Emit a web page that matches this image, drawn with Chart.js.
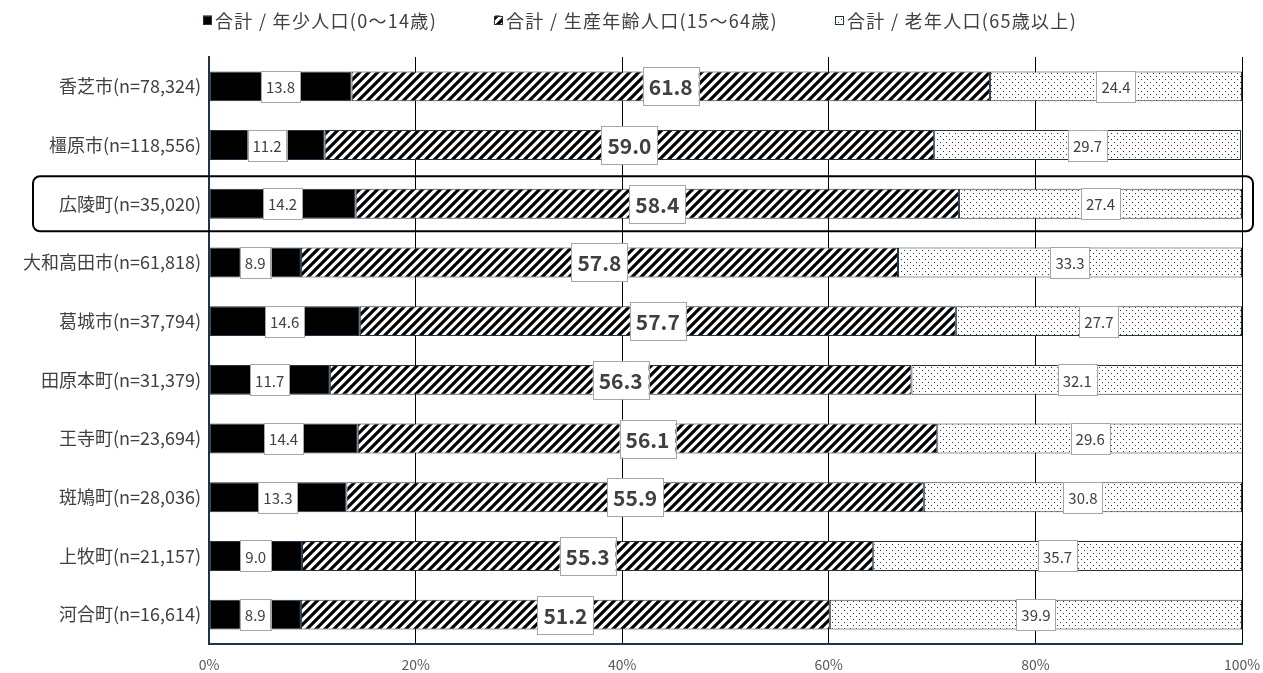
<!DOCTYPE html>
<html>
<head>
<meta charset="utf-8">
<script src="https://cdn.jsdelivr.net/npm/chart.js@4.4.1/dist/chart.umd.min.js"></script>
<style>
  html, body { margin: 0; padding: 0; background: #fff; overflow: hidden; }
  #wrap { width: 1263px; height: 673px; }
</style>
</head>
<body>
<div id="wrap"><canvas id="popChart"></canvas></div>
<script>
(function(){
'use strict';

// 市町村名(n=人口)
const areas = [
  '香芝市(n=78,324)', '橿原市(n=118,556)', '広陵町(n=35,020)', '大和高田市(n=61,818)',
  '葛城市(n=37,794)', '田原本町(n=31,379)', '王寺町(n=23,694)', '斑鳩町(n=28,036)',
  '上牧町(n=21,157)', '河合町(n=16,614)'
];
const seriesNames = ['合計 / 年少人口(0～14歳)', '合計 / 生産年齢人口(15～64歳)', '合計 / 老年人口(65歳以上)'];
const youngPct  = [13.8, 11.2, 14.2, 8.9, 14.6, 11.7, 14.4, 13.3, 9.0, 8.9];
const workPct   = [61.8, 59.0, 58.4, 57.8, 57.7, 56.3, 56.1, 55.9, 55.3, 51.2];
const oldPct    = [24.4, 29.7, 27.4, 33.3, 27.7, 32.1, 29.6, 30.8, 35.7, 39.9];
const highlightIdx = 2;   // 広陵町 を囲む

const FONT = '"Noto Sans CJK JP", "Noto Sans", sans-serif';
const TXT = '#404040';
const EDGE = '#203445';

// 斜線パターン
function hatchPattern(){
  const s = 9;
  const c = document.createElement('canvas');
  c.width = s; c.height = s;
  const g = c.getContext('2d');
  g.fillStyle = '#fff'; g.fillRect(0, 0, s, s);
  g.strokeStyle = '#000'; g.lineWidth = 3.2;
  g.beginPath();
  g.moveTo(-2, 2);    g.lineTo(2, -2);
  g.moveTo(0, s);     g.lineTo(s, 0);
  g.moveTo(s - 2, s + 2); g.lineTo(s + 2, s - 2);
  g.stroke();
  return g.createPattern(c, 'repeat');
}
// 点パターン
function dotPattern(){
  const s = 6;
  const c = document.createElement('canvas');
  c.width = s; c.height = s;
  const g = c.getContext('2d');
  g.fillStyle = '#fff'; g.fillRect(0, 0, s, s);
  g.fillStyle = '#333';
  g.fillRect(1, 1, 1, 1);
  g.fillRect(4, 4, 1, 1);
  return g.createPattern(c, 'repeat');
}

const fills = ['#000', hatchPattern(), dotPattern()];

// 値ラベル(白い箱)
const boxLabels = {
  id: 'boxLabels',
  afterDatasetsDraw(chart){
    const ctx = chart.ctx;
    ctx.save();
    ctx.textAlign = 'center';
    ctx.textBaseline = 'middle';
    chart.data.datasets.forEach((ds, i) => {
      const meta = chart.getDatasetMeta(i);
      const big = i === 1;
      ctx.font = (big ? 'bold 21px ' : '15px ') + FONT;
      meta.data.forEach((el, j) => {
        const txt = ds.data[j].toFixed(1);
        const cx = (el.x + el.base) / 2;
        const cy = el.y;
        const w = ctx.measureText(txt).width + (big ? 12 : 10);
        const h = big ? 38 : 31;
        ctx.fillStyle = '#fff';
        ctx.fillRect(cx - w / 2, cy - h / 2, w, h);
        ctx.strokeStyle = '#a6a6a6';
        ctx.lineWidth = 1;
        ctx.strokeRect(Math.round(cx - w / 2) + 0.5, Math.round(cy - h / 2) + 0.5, Math.round(w), Math.round(h));
        ctx.fillStyle = TXT;
        ctx.fillText(txt, cx, cy + 1);
      });
    });
    ctx.restore();
  }
};

// 凡例(上部中央)
const topLegend = {
  id: 'topLegend',
  afterDraw(chart){
    const ctx = chart.ctx;
    const box = 9, gapBox = 3, gapItem = 57, cy = 20;
    ctx.save();
    ctx.font = '18px ' + FONT;
    if ('letterSpacing' in ctx) ctx.letterSpacing = '1.3px';
    ctx.textBaseline = 'middle';
    ctx.textAlign = 'left';
    const widths = seriesNames.map(t => box + gapBox + ctx.measureText(t).width);
    const total = widths.reduce((a, b) => a + b, 0) + gapItem * (widths.length - 1);
    let x = 640 - total / 2;
    seriesNames.forEach((t, i) => {
      ctx.fillStyle = fills[i];
      ctx.fillRect(x, cy - box / 2, box, box);
      ctx.strokeStyle = EDGE;
      ctx.lineWidth = 1;
      ctx.strokeRect(Math.round(x) + 0.5, Math.round(cy - box / 2) + 0.5, box - 1, box - 1);
      ctx.fillStyle = TXT;
      ctx.fillText(t, x + box + gapBox, cy + 1);
      x += widths[i] + gapItem;
    });
    ctx.restore();
  }
};

// 強調枠
const highlightBox = {
  id: 'highlightBox',
  afterDraw(chart){
    const y = chart.scales.y;
    const step = y.getPixelForValue(1) - y.getPixelForValue(0);
    const cy = y.getPixelForValue(highlightIdx);
    const top = cy - step * 0.47, bottom = cy + step * 0.47;
    const left = 33, right = chart.chartArea.right + 11;
    const ctx = chart.ctx;
    ctx.save();
    ctx.strokeStyle = '#000';
    ctx.lineWidth = 2;
    ctx.beginPath();
    ctx.roundRect(left, top, right - left, bottom - top, 7);
    ctx.stroke();
    ctx.restore();
  }
};

const ctx = document.getElementById('popChart').getContext('2d');
new Chart(ctx, {
  type: 'bar',
  data: {
    labels: areas,
    datasets: [youngPct, workPct, oldPct].map((d, i) => ({
      label: seriesNames[i],
      data: d,
      backgroundColor: fills[i],
      borderColor: EDGE,
      borderWidth: 1,
      borderSkipped: false,
      categoryPercentage: 1.0,
      barPercentage: 0.51
    }))
  },
  options: {
    indexAxis: 'y',
    responsive: true,
    maintainAspectRatio: false,
    animation: false,
    layout: { padding: { top: 57, right: 0, left: 0, bottom: 0 } },
    scales: {
      x: {
        stacked: true,
        min: 0, max: 100,
        ticks: { stepSize: 20, callback: v => v + '%', color: '#595959', font: { family: FONT, size: 14 }, padding: 12 },
        grid: { color: '#000', lineWidth: 1, drawTicks: false },
        border: { display: true, color: EDGE, width: 2 },
        afterFit: s => { s.height = 29; s.paddingRight = 21; }
      },
      y: {
        stacked: true,
        ticks: { color: TXT, font: { family: FONT, size: 18 }, padding: 0 },
        grid: { display: false },
        border: { display: true, color: EDGE, width: 2 },
        afterFit: s => { s.width = 209; }
      }
    },
    plugins: {
      tooltip: { enabled: false },
      legend: { display: false }
    }
  },
  plugins: [boxLabels, topLegend, highlightBox]
});

})();
</script>
</body>
</html>
